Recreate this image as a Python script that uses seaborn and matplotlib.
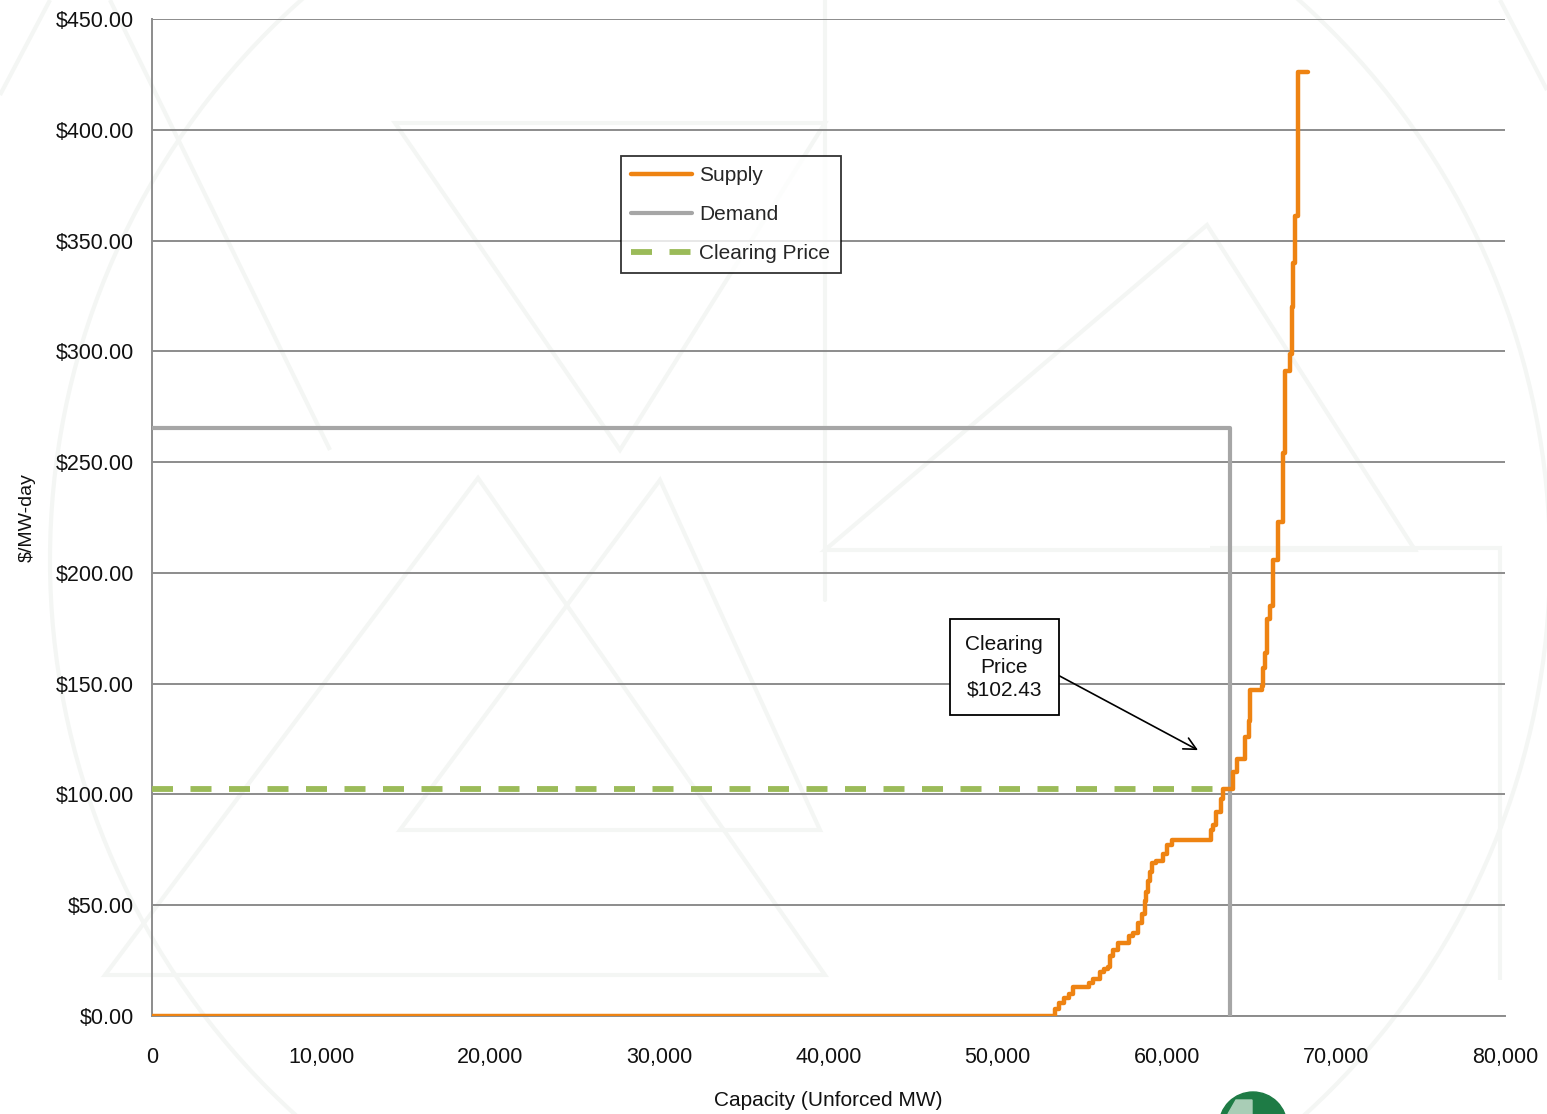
import matplotlib
matplotlib.use("Agg")
import matplotlib.pyplot as plt
from matplotlib.lines import Line2D
from matplotlib.patches import Ellipse, Polygon
from matplotlib.ticker import FuncFormatter
import pandas as pd
import seaborn as sns

# Supply offer curve: price steps up to the given level at each capacity point
supply_mw = [0, 53400, 53600, 53900, 54200, 54450, 55400, 55650, 56050, 56300,
             56550, 56650, 56850, 57100, 57750, 58000, 58300, 58550, 58700, 58800,
             58900, 59000, 59150, 59350, 59800, 60000, 60300, 62600, 62750, 62900,
             63200, 63300, 63900, 64150, 64650, 64850, 64950, 65650, 65700, 65800,
             65950, 66100, 66300, 66550, 66900, 67000, 67300, 67400, 67470, 67600,
             67750, 68350]
supply_price = [0, 3, 6, 8, 10, 13, 15, 16.5, 20, 21,
                22, 27, 30, 33, 36, 37.5, 42, 46, 52, 56,
                61, 65, 69, 70, 73, 77, 79.4, 84, 86, 92,
                98, 102.43, 110, 116, 126, 133, 147, 149, 157, 164,
                179, 185, 206, 223, 254, 291, 299, 320, 340, 361,
                426, 426]

# Demand: fixed price up to the requirement, then vertical
demand_mw = [0, 63740, 63740]
demand_price = [265.4, 265.4, 0]

# Clearing price line
clearing_price = 102.43
clearing_mw = [0, 63740]

y_ticks = [0, 50, 100, 150, 200, 250, 300, 350, 400, 450]
x_ticks = [0, 10000, 20000, 30000, 40000, 50000, 60000, 70000, 80000]

sns.set_theme(style="white")
plt.rcParams["font.family"] = ["Liberation Sans Narrow", "Liberation Sans", "DejaVu Sans"]

W, H = 1547, 1114
fig = plt.figure(figsize=(W / 100, H / 100), dpi=100)
fig.patch.set_facecolor("white")


def fx(px):
    return px / W


def fy(py):
    return 1 - py / H


# very faint background emblem
wm = "#F4F6F4"
fig.add_artist(Ellipse((fx(800), fy(560)), 2 * 750 / W, 2 * 750 / H,
                       transform=fig.transFigure, fill=False, ec=wm, lw=3, zorder=0))
for pts, closed in [
    ([(105, 975), (478, 478), (825, 975)], True),
    ([(400, 830), (660, 480), (820, 830)], True),
    ([(395, 123), (825, 123), (620, 450)], True),
    ([(825, 550), (1207, 225), (1415, 550)], True),
    ([(1210, 548), (1500, 548), (1500, 980)], False),
    ([(50, 0), (0, 95)], False),
    ([(110, 0), (330, 450)], False),
    ([(1500, 0), (1547, 90)], False),
]:
    fig.add_artist(Polygon([(fx(a), fy(b)) for a, b in pts], closed=closed,
                           transform=fig.transFigure, fill=False, ec=wm, lw=3,
                           zorder=0))
fig.add_artist(Line2D([fx(825), fx(825)], [fy(0), fy(600)], transform=fig.transFigure,
                      color=wm, lw=3, zorder=0))

# logo fragment at the bottom edge
fig.add_artist(Ellipse((fx(1253), fy(1126)), 68 / W, 68 / H,
                       transform=fig.transFigure, color="#1E7B45", zorder=1))
fig.add_artist(Polygon([(fx(1228), fy(1114)), (fx(1236), fy(1100)),
                        (fx(1252), fy(1100)), (fx(1252), fy(1114))],
                       transform=fig.transFigure, color="#A9CDB6", zorder=1))

ax = fig.add_axes([fx(152), fy(1016), (1505 - 152) / W, (1016 - 19) / H])
ax.set_facecolor("none")

supply_df = pd.DataFrame({"mw": supply_mw, "price": supply_price})
demand_df = pd.DataFrame({"mw": demand_mw, "price": demand_price})
clear_df = pd.DataFrame({"mw": clearing_mw, "price": [clearing_price] * 2})

sns.lineplot(data=clear_df, x="mw", y="price", ax=ax, color="#9BBB59", lw=4.2,
             linestyle=(0, (3.6, 3.0)), estimator=None, sort=False,
             label="Clearing Price", zorder=3)
sns.lineplot(data=demand_df, x="mw", y="price", ax=ax, color="#A6A6A6", lw=3.0,
             estimator=None, sort=False, label="Demand", zorder=4)
sns.lineplot(data=supply_df, x="mw", y="price", ax=ax, color="#EE8312", lw=3.2,
             drawstyle="steps-post", estimator=None, sort=False, label="Supply",
             zorder=5, solid_capstyle="round")

ax.set_xlim(0, 80000)
ax.set_ylim(0, 450)
ax.set_yticks(y_ticks)
ax.set_xticks(x_ticks)
ax.yaxis.set_major_formatter(FuncFormatter(lambda v, p: f"${v:,.2f}"))
ax.xaxis.set_major_formatter(FuncFormatter(lambda v, p: f"{v:,.0f}"))
ax.grid(axis="y", color="#8C8C8C", lw=1.4, zorder=1)
ax.grid(axis="x", visible=False)
ax.set_axisbelow(True)

for s in ["top", "right"]:
    ax.spines[s].set_visible(False)
for s in ["left", "bottom"]:
    ax.spines[s].set_color("#8C8C8C")
    ax.spines[s].set_linewidth(1.4)

ax.tick_params(axis="both", which="major", direction="out", length=7,
               width=1.2, color="#8C8C8C", labelsize=15.5, labelcolor="#111111")
ax.tick_params(axis="y", pad=6)
ax.tick_params(axis="x", pad=15)

ax.set_xlabel("Capacity (Unforced MW)", fontsize=15, labelpad=17, color="#111111")
ax.set_ylabel("$/MW-day", fontsize=14, labelpad=14, color="#111111")

handles, labels = ax.get_legend_handles_labels()
order = [labels.index(n) for n in ["Supply", "Demand", "Clearing Price"]]
leg = ax.legend([handles[i] for i in order], [labels[i] for i in order],
                loc="upper left", bbox_to_anchor=((621 - 152) / 1353, (1016 - 156) / 997),
                frameon=True, fancybox=False, edgecolor="black", fontsize=15,
                handlelength=2.9, handletextpad=0.35, labelspacing=0.95,
                borderpad=0.5, borderaxespad=0)
leg.get_frame().set_linewidth(1.3)

ax.annotate("Clearing\nPrice\n$102.43", xy=(61850, 120), xytext=(50380, 157.5),
            ha="center", va="center", fontsize=15, color="#111111",
            linespacing=1.25,
            bbox=dict(boxstyle="square,pad=0.75", fc="white", ec="black", lw=1.3),
            arrowprops=dict(arrowstyle="->", color="black", lw=1.2, relpos=(1, 0.5),
                            mutation_scale=22, shrinkA=0, shrinkB=0),
            zorder=6)

fig.savefig("out.png", dpi=100, facecolor="white")
